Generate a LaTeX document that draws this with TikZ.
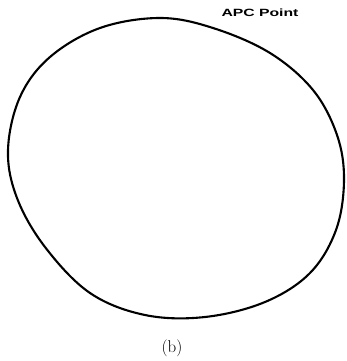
\documentclass[tikz,border=0pt]{standalone}
\usepackage{fontspec}
\newfontfamily\labelfont{Liberation Sans}
\begin{document}
\begin{tikzpicture}[x=1pt,y=-1pt,
  outline/.style={line width=2.1pt, line join=round},
  apclabel/.style={font=\labelfont\bfseries\fontsize{10.5}{12}\selectfont, inner sep=0pt},
  caption/.style={font=\fontsize{17}{19}\selectfont, inner sep=0pt}]
\useasboundingbox (0,0) rectangle (346,361);
\draw[outline] plot[smooth cycle, tension=0.6] coordinates {
 (160,18) (213,28) (270,53) (313,90) (337,135) (344,180) (336,230)
 (310,273) (265,302) (205,317) (145,315) (90,293) (45,247) (17,198)
 (8,150) (20,97) (50,57) (100,28)};
\node[apclabel] (apc) at (260,13) {\scalebox{1.5}[1]{APC Point}};
\node[caption] (cap) at (172,348) {(b)};
\end{tikzpicture}
\end{document}
